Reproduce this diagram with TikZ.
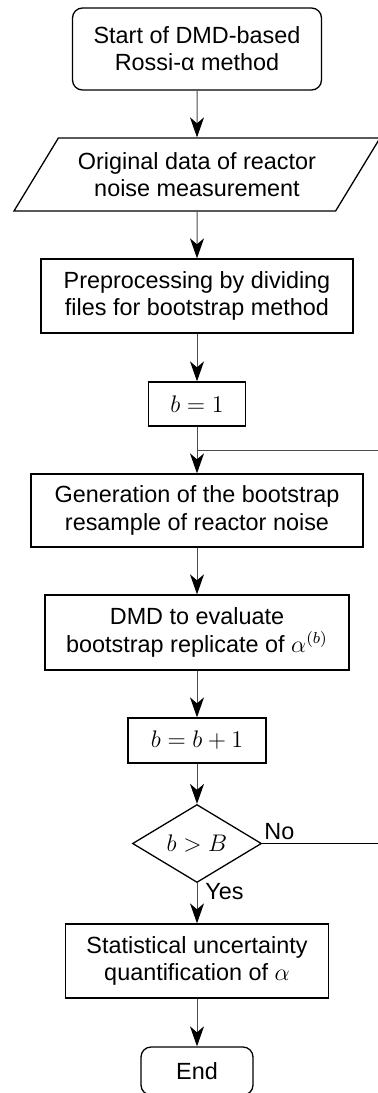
\documentclass[tikz,border=0pt]{standalone}
\usepackage{fontspec}
\setmainfont{Liberation Sans}
\usetikzlibrary{shapes.geometric,arrows.meta}

\tikzset{
  box/.style={draw, line width=0.65pt, align=center, inner sep=0pt, font=\fontsize{11.7}{13.6}\selectfont},
  proc/.style={box, rectangle},
  term/.style={box, rounded corners=5pt},
  iobox/.style={box, trapezium, trapezium left angle=45, trapezium right angle=135, trapezium stretches body},
  decide/.style={box, diamond},
  tag/.style={font=\fontsize{11.7}{13.6}\selectfont, inner sep=0pt},
  flow/.style={line width=0.5pt, draw=black!70, -{Stealth[length=10pt,width=7pt,inset=3pt,color=black]}},
  back/.style={line width=0.5pt, draw=black!70},
}

\begin{document}
\begin{tikzpicture}[x=0.5pt, y=-0.5pt]

\useasboundingbox (0,0) rectangle (377,1093);

% blocks, top to bottom
\node[term, minimum width=124.5pt, minimum height=41pt] (start) at (197,49) {Start of DMD-based\\Rossi-α method};
\node[iobox, minimum width=183pt, minimum height=36.5pt] (data) at (197,174.5) {Original data of reactor\\noise measurement};
\node[proc, minimum width=156pt, minimum height=37pt] (prep) at (197,296) {Preprocessing by dividing\\files for bootstrap method};
\node[proc, minimum width=48.5pt, minimum height=22pt] (init) at (197,404) {$b=1$};
\node[proc, minimum width=166pt, minimum height=36.5pt] (gen) at (197,510.5) {Generation of the bootstrap\\resample of reactor noise};
\node[proc, minimum width=152pt, minimum height=37.5pt] (dmd) at (197,632.5) {DMD to evaluate\\bootstrap replicate of $\alpha^{(b)}$};
\node[proc, minimum width=69pt, minimum height=22.5pt] (incr) at (197,740.5) {$b=b+1$};
\node[decide, minimum width=64.5pt, minimum height=31.5pt] (check) at (197,843.5) {$b>B$};
\node[proc, minimum width=131.5pt, minimum height=37pt] (stat) at (197,961) {Statistical uncertainty\\quantification of $\alpha$};
\node[term, minimum width=56pt, minimum height=24pt] (end) at (197,1071) {End};

\node[tag, anchor=south west] (no) at (264,840) {No};
\node[tag, anchor=west] (yes) at (205,892) {Yes};

% loop back (runs off the right edge)
\coordinate (join) at (197,450);
\coordinate (turn) at (395,450);
\draw[line width=0.5pt] (check.east) -- (check.east -| turn);
\draw[back] (check.east -| turn) -- (turn) -- (join);

\draw[flow] (start) -- (data);
\draw[flow] (data) -- (prep);
\draw[flow] (prep) -- (init);
\draw[flow] (init) -- (gen);
\draw[flow] (gen) -- (dmd);
\draw[flow] (dmd) -- (incr);
\draw[flow] (incr) -- (check);
\draw[flow] (check) -- (stat);
\draw[flow] (stat) -- (end);

\end{tikzpicture}
\end{document}
